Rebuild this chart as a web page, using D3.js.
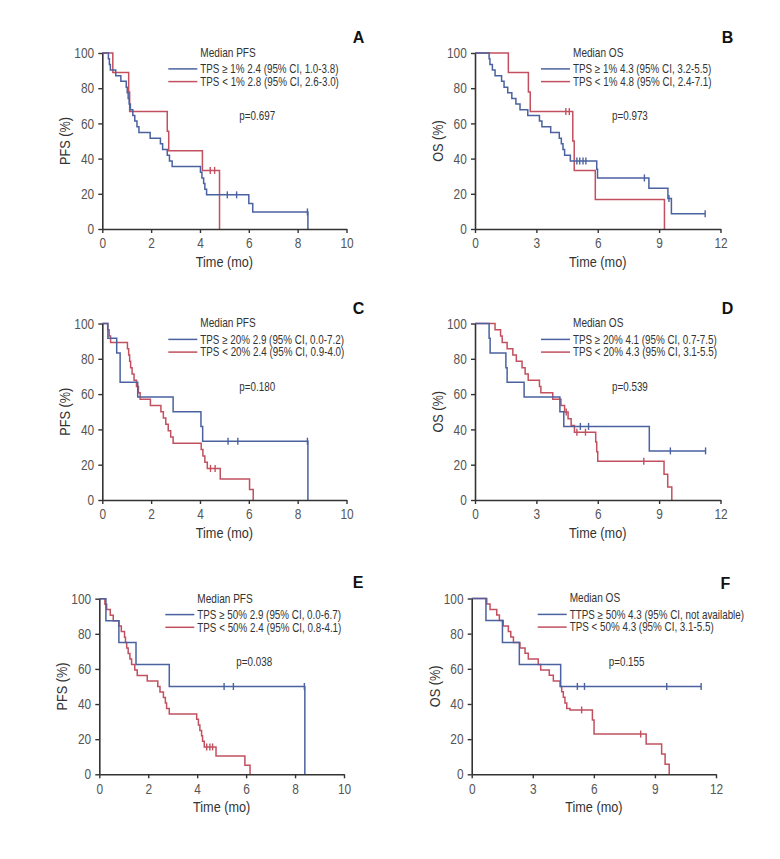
<!DOCTYPE html>
<html>
<head>
<meta charset="utf-8">
<script src="https://cdn.jsdelivr.net/npm/d3@7"></script>
<style>
  html, body { margin: 0; padding: 0; background: #fff; }
  svg { display: block; }
</style>
</head>
<body>
<svg id="chart" width="780" height="859"></svg>
<script>
// ---------------- DATA ----------------
// Tick labels
const pfsTicksX = [0, 2, 4, 6, 8, 10];
const osTicksX = [0, 3, 6, 9, 12];
const yTicks = [0, 20, 40, 60, 80, 100];

const panelLetters = ["A", "B", "C", "D", "E", "F"];
const yTitles = ["PFS (%)", "OS (%)", "PFS (%)", "OS (%)", "PFS (%)", "OS (%)"];
const legendTitles = ["Median PFS", "Median OS", "Median PFS", "Median OS", "Median PFS", "Median OS"];
const legendHigh = [
  "TPS \u2265 1% 2.4 (95% CI, 1.0-3.8)",
  "TPS \u2265 1% 4.3 (95% CI, 3.2-5.5)",
  "TPS \u2265 20% 2.9 (95% CI, 0.0-7.2)",
  "TPS \u2265 20% 4.1 (95% CI, 0.7-7.5)",
  "TPS \u2265 50% 2.9 (95% CI, 0.0-6.7)",
  "TTPS \u2265 50% 4.3 (95% CI, not available)"
];
const legendLow = [
  "TPS < 1% 2.8 (95% CI, 2.6-3.0)",
  "TPS < 1% 4.8 (95% CI, 2.4-7.1)",
  "TPS < 20% 2.4 (95% CI, 0.9-4.0)",
  "TPS < 20% 4.3 (95% CI, 3.1-5.5)",
  "TPS < 50% 2.4 (95% CI, 0.8-4.1)",
  "TPS < 50% 4.3 (95% CI, 3.1-5.5)"
];
const pValues = ["p=0.697", "p=0.973", "p=0.180", "p=0.539", "p=0.038", "p=0.155"];

// Panel A: PFS, TPS >= 1% (high) vs < 1% (low)
const aHiT = [0.25, 0.29, 0.33, 0.55, 0.76, 0.98, 1.02, 1.06, 1.1, 1.15, 1.25, 1.33, 1.42, 1.5, 1.96, 2.38, 2.47, 2.66, 2.75, 2.86, 4.02, 4.08, 4.15, 4.2, 4.27, 6.0, 6.16, 8.42];
const aHiS = [96.8, 93.5, 90.3, 87.1, 83.9, 80.6, 77.4, 74.2, 71.0, 67.7, 64.5, 61.3, 58.1, 54.8, 51.6, 48.4, 45.2, 41.9, 38.7, 35.5, 32.3, 29.0, 25.8, 22.6, 19.4, 14.5, 9.7, 0];
const aHiCens = [5.12, 5.5, 8.4];
const aLoT = [0.43, 1.08, 1.12, 2.66, 2.72, 4.1, 4.8];
const aLoS = [88.9, 77.8, 66.7, 55.6, 44.4, 33.3, 0];
const aLoCens = [4.42, 4.6];

// Panel B: OS, TPS >= 1% vs < 1%
const bHiT = [0.69, 0.73, 0.85, 0.98, 1.3, 1.42, 1.6, 1.8, 2.0, 2.2, 2.58, 3.15, 3.27, 3.7, 4.12, 4.22, 4.3, 4.38, 4.66, 5.95, 5.99, 8.5, 9.43, 9.6];
const bHiS = [96.8, 93.5, 90.3, 87.1, 83.9, 80.6, 77.4, 74.2, 71.0, 67.7, 64.5, 61.3, 58.1, 54.8, 51.6, 48.4, 45.2, 41.9, 38.7, 33.9, 29.0, 23.2, 17.4, 8.7];
const bHiCens = [4.98, 5.12, 5.28, 5.42, 8.28, 9.48, 11.25];
const bLoT = [1.63, 2.61, 2.7, 4.78, 4.85, 5.88, 9.26];
const bLoS = [88.9, 77.8, 66.7, 50.0, 33.3, 16.7, 0];
const bLoCens = [4.44, 4.61];

// Panel C: PFS, TPS >= 20% vs < 20%
const cHiT = [0.23, 0.59, 0.73, 1.45, 2.9, 4.04, 4.11, 8.42];
const cHiS = [91.7, 83.3, 66.7, 58.3, 50.0, 41.7, 33.3, 0];
const cHiCens = [5.15, 5.55, 8.4];
const cLoT = [0.22, 0.28, 0.34, 1.03, 1.08, 1.12, 1.16, 1.22, 1.3, 1.4, 1.48, 1.55, 1.97, 2.4, 2.5, 2.6, 2.7, 2.8, 2.9, 4.05, 4.12, 4.2, 4.3, 4.83, 6.03, 6.18];
const cLoS = [96.4, 92.9, 89.3, 85.7, 82.1, 78.6, 75.0, 71.4, 67.9, 64.3, 60.7, 57.1, 53.6, 50.0, 46.4, 42.9, 39.3, 35.7, 32.1, 28.6, 25.0, 21.4, 17.9, 11.9, 6.0, 0];
const cLoCens = [4.43, 4.62];

// Panel D: OS, TPS >= 20% vs < 20%
const dHiT = [0.69, 0.74, 1.51, 1.57, 2.4, 4.15, 4.34, 8.52];
const dHiS = [91.7, 83.3, 75.0, 66.7, 58.3, 50.0, 41.7, 27.8];
const dHiCens = [5.15, 5.55, 9.55, 11.27];
const dLoT = [0.98, 1.25, 1.33, 1.57, 1.85, 2.02, 2.3, 2.45, 2.6, 3.15, 3.22, 3.8, 4.2, 4.38, 4.55, 4.7, 4.86, 5.9, 5.95, 6.0, 9.24, 9.42, 9.62];
const dLoS = [96.4, 92.9, 89.3, 85.7, 82.1, 78.6, 75.0, 71.4, 67.9, 64.3, 60.7, 57.1, 53.6, 49.8, 46.0, 42.2, 38.4, 32.9, 27.4, 21.9, 14.6, 7.3, 0];
const dLoCens = [4.46, 4.98, 5.4, 8.25];

// Panel E: PFS, TPS >= 50% vs < 50%
const eHiT = [0.27, 0.8, 1.5, 2.86, 8.4];
const eHiS = [87.5, 75.0, 62.5, 50.0, 0];
const eHiCens = [5.1, 5.48, 8.38];
const eLoT = [0.23, 0.3, 0.45, 0.57, 0.8, 0.9, 1.03, 1.07, 1.12, 1.18, 1.25, 1.32, 1.45, 1.55, 1.96, 2.39, 2.48, 2.62, 2.7, 2.75, 2.86, 3.98, 4.05, 4.11, 4.18, 4.22, 4.29, 4.77, 5.95, 6.16];
const eLoS = [96.9, 93.8, 90.6, 87.5, 84.4, 81.3, 78.1, 75.0, 71.9, 68.8, 65.6, 62.5, 59.4, 56.3, 53.1, 50.0, 46.9, 43.8, 40.6, 37.5, 34.4, 31.3, 28.1, 25.0, 21.9, 18.8, 15.6, 10.4, 5.2, 0];
const eLoCens = [4.39, 4.52, 4.63];

// Panel F: OS, TPS >= 50% vs < 50%
const fHiT = [0.7, 1.51, 2.34, 4.37];
const fHiS = [87.5, 75.0, 62.5, 50.0];
const fHiCens = [5.19, 5.54, 9.58, 11.27];
const fLoT = [0.74, 0.9, 1.23, 1.36, 1.55, 1.8, 1.92, 2.05, 2.37, 2.62, 2.78, 3.27, 3.39, 3.81, 4.01, 4.34, 4.42, 4.5, 4.58, 4.67, 4.83, 5.93, 6.01, 8.57, 9.33, 9.5, 9.7];
const fLoS = [96.9, 93.8, 90.6, 87.5, 84.4, 81.3, 78.1, 75.0, 71.9, 68.8, 65.6, 62.5, 59.4, 56.3, 53.1, 50.0, 46.9, 43.8, 40.6, 37.5, 36.6, 30.9, 22.9, 17.2, 11.5, 5.7, 0];
const fLoCens = [5.4, 8.3];

// ---------------- LAYOUT ----------------
const BLUE = "#4a62a0";
const RED = "#c2505f";
const AXIS = "#333";
const FONT = "'Liberation Sans', Arial, sans-serif";
const SQ = 0.82; // horizontal squeeze to mimic a condensed face

const panels = [
  { hi: [aHiT, aHiS, aHiCens], lo: [aLoT, aLoS, aLoCens], xMax: 10, ticks: pfsTicksX, x0: 102.3, x1: 346.5, yTop: 53, yBot: 229, lx: 352.7, ly: 42.7 },
  { hi: [bHiT, bHiS, bHiCens], lo: [bLoT, bLoS, bLoCens], xMax: 12, ticks: osTicksX, x0: 475, x1: 720.5, yTop: 53, yBot: 229, lx: 721.7, ly: 42.7 },
  { hi: [cHiT, cHiS, cHiCens], lo: [cLoT, cLoS, cLoCens], xMax: 10, ticks: pfsTicksX, x0: 102.3, x1: 346.5, yTop: 323.5, yBot: 500, lx: 352.7, ly: 313.5 },
  { hi: [dHiT, dHiS, dHiCens], lo: [dLoT, dLoS, dLoCens], xMax: 12, ticks: osTicksX, x0: 475, x1: 720.5, yTop: 323.5, yBot: 500, lx: 721.7, ly: 313.5 },
  { hi: [eHiT, eHiS, eHiCens], lo: [eLoT, eLoS, eLoCens], xMax: 10, ticks: pfsTicksX, x0: 99.3, x1: 344, yTop: 598.7, yBot: 774.3, lx: 352.7, ly: 588.3 },
  { hi: [fHiT, fHiS, fHiCens], lo: [fLoT, fLoS, fLoCens], xMax: 12, ticks: osTicksX, x0: 471.7, x1: 716, yTop: 598.5, yBot: 774.3, lx: 720.5, ly: 588.5 }
];

const svg = d3.select("#chart");
svg.append("rect").attr("width", 780).attr("height", 859).attr("fill", "#fff");

function survAt(T, S, t) {
  let v = 100;
  for (let i = 0; i < T.length; i++) { if (T[i] <= t) v = S[i]; }
  return v;
}

function buildPoints(T, S, C) {
  const pts = [[0, 100]];
  T.forEach((t, i) => pts.push([t, S[i]]));
  const lastS = S[S.length - 1];
  const lastT = T[T.length - 1];
  if (lastS > 0) {
    const endT = Math.max(lastT, C.length ? d3.max(C) : lastT);
    pts.push([endT, lastS]);
  }
  return pts;
}

// text placed at (x,y), squeezed horizontally
function ntext(parent, x, y, txt, size, anchor, rotate) {
  const rot = rotate ? ` rotate(${rotate})` : "";
  const scale = rotate ? `scale(1,1)` : `scale(${SQ},1)`;
  const t = parent.append("text")
    .attr("transform", `translate(${x},${y})${rot} ${scale}`)
    .attr("text-anchor", anchor || "start")
    .style("font-family", FONT).style("font-size", size + "px")
    .text(txt);
  if (rotate) t.attr("transform", `translate(${x},${y})${rot} scale(${SQ},1)`);
  return t;
}

panels.forEach((p, idx) => {
  const g = svg.append("g");
  const x = d3.scaleLinear().domain([0, p.xMax]).range([p.x0, p.x1]);
  const y = d3.scaleLinear().domain([0, 100]).range([p.yBot, p.yTop]);

  // Curves
  const line = d3.line().x(d => x(d[0])).y(d => y(d[1])).curve(d3.curveStepAfter);
  const curves = [[p.lo, RED], [p.hi, BLUE]];
  curves.forEach(([c, col]) => {
    const [T, S, C] = c;
    g.append("path")
      .attr("d", line(buildPoints(T, S, C)))
      .attr("fill", "none")
      .attr("stroke", col)
      .attr("stroke-width", 1.5);
    g.selectAll(null).data(C).enter().append("line")
      .attr("x1", d => x(d)).attr("x2", d => x(d))
      .attr("y1", d => y(survAt(T, S, d)) - 3.5)
      .attr("y2", d => y(survAt(T, S, d)) + 3.5)
      .attr("stroke", col).attr("stroke-width", 1.4);
  });

  // Axes
  const xAxis = d3.axisBottom(x).tickValues(p.ticks).tickSize(4).tickSizeOuter(0).tickPadding(5);
  const yAxis = d3.axisLeft(y).tickValues(yTicks).tickSize(4).tickSizeOuter(0).tickPadding(6);
  const gx = g.append("g").attr("transform", `translate(0,${p.yBot})`).call(xAxis);
  const gy = g.append("g").attr("transform", `translate(${p.x0},0)`).call(yAxis);
  [gx, gy].forEach(a => {
    a.select(".domain").attr("stroke", AXIS).attr("stroke-width", 1.6);
    a.selectAll(".tick line").attr("stroke", AXIS).attr("stroke-width", 1.4);
    a.selectAll(".tick text").attr("fill", "#555")
      .attr("transform", `scale(${SQ},1)`)
      .style("font-family", FONT).style("font-size", "14.5px");
  });

  // Axis titles
  ntext(g, (p.x0 + p.x1) / 2, p.yBot + 38, "Time (mo)", 15.5, "middle").attr("fill", "#333");
  const yt = g.append("text")
    .attr("transform", `translate(${p.x0 - 32},${(p.yTop + p.yBot) / 2}) rotate(-90) scale(${SQ},1)`)
    .attr("text-anchor", "middle")
    .attr("fill", "#333").style("font-family", FONT).style("font-size", "15.5px")
    .text(yTitles[idx]);

  // Panel letter
  g.append("text")
    .attr("x", p.lx).attr("y", p.ly)
    .attr("fill", "#111").style("font-family", FONT)
    .style("font-size", "16px").style("font-weight", "bold")
    .text(panelLetters[idx]);

  // Legend
  const tx = p.x0 + 98;
  const lg = g.append("g").attr("fill", "#333");
  ntext(lg, tx, p.yTop + 3.8, legendTitles[idx], 12.3);
  [[legendHigh[idx], BLUE, 20.2], [legendLow[idx], RED, 32.9]].forEach(([txt, col, dy]) => {
    lg.append("line")
      .attr("x1", p.x0 + 66).attr("x2", p.x0 + 95)
      .attr("y1", p.yTop + dy - 4.3).attr("y2", p.yTop + dy - 4.3)
      .attr("stroke", col).attr("stroke-width", 1.5);
    ntext(lg, tx, p.yTop + dy, txt, 12);
  });
  ntext(lg, p.x0 + 137, p.yTop + 67.3, pValues[idx], 12);
});
</script>
</body>
</html>
